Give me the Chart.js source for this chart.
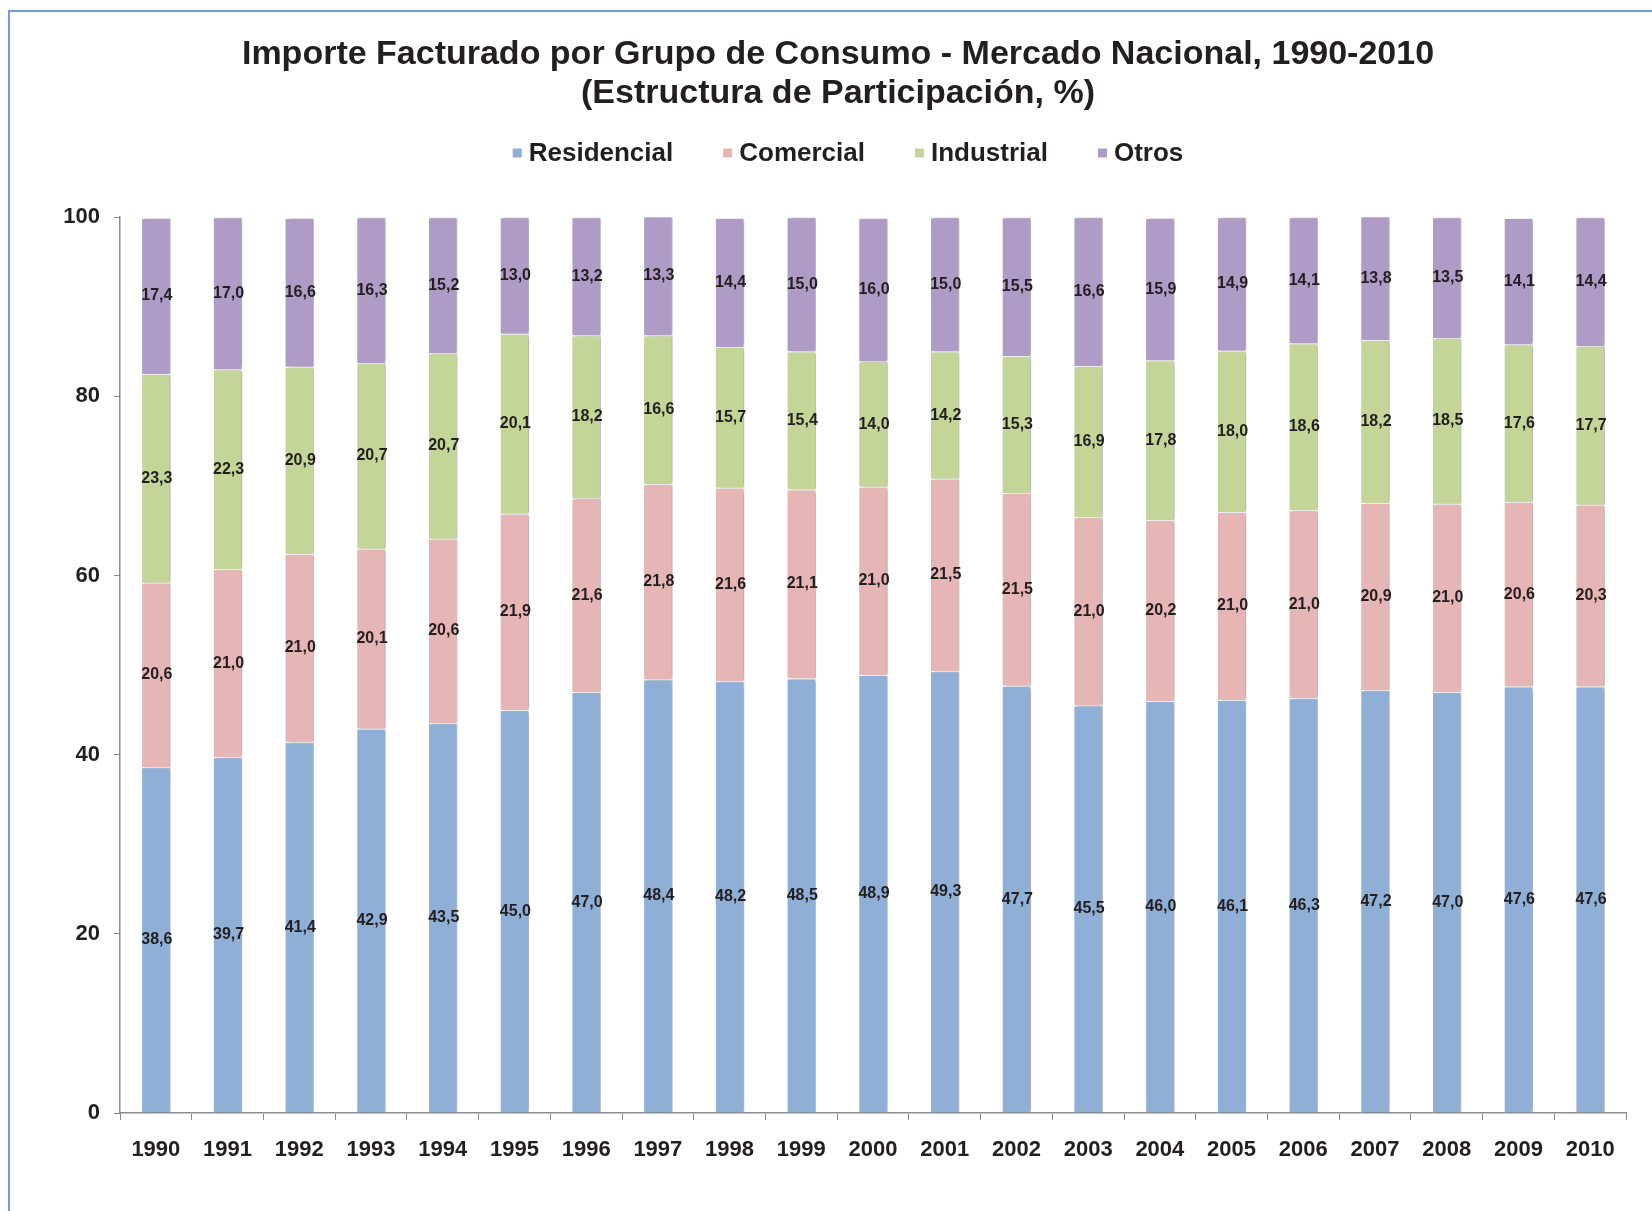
<!DOCTYPE html>
<html lang="es">
<head>
<meta charset="UTF-8">
<title>Importe Facturado por Grupo de Consumo</title>
<script src="https://cdn.jsdelivr.net/npm/chart.js"></script>
<style>
    html, body { margin: 0; padding: 0; background: #fff; overflow: hidden; }
    #wrap { position: relative; width: 1652px; height: 1211px; }
    #frame { position: absolute; left: 8px; top: 10px; width: 1700px; height: 1300px;
             border-top: 2px solid #6f9fd8; border-left: 2px solid #6f9fd8; }
    canvas { position: absolute; left: 0; top: 0; }
</style>
</head>
<body>
<div id="wrap">
    <div id="frame"></div>
    <canvas id="chart" width="1652" height="1211"></canvas>
</div>
<script>
    const years = ['1990', '1991', '1992', '1993', '1994', '1995', '1996', '1997', '1998', '1999', '2000',
                   '2001', '2002', '2003', '2004', '2005', '2006', '2007', '2008', '2009', '2010'];
    const residencial = [38.6, 39.7, 41.4, 42.9, 43.5, 45.0, 47.0, 48.4, 48.2, 48.5, 48.9,
                         49.3, 47.7, 45.5, 46.0, 46.1, 46.3, 47.2, 47.0, 47.6, 47.6];
    const comercial   = [20.6, 21.0, 21.0, 20.1, 20.6, 21.9, 21.6, 21.8, 21.6, 21.1, 21.0,
                         21.5, 21.5, 21.0, 20.2, 21.0, 21.0, 20.9, 21.0, 20.6, 20.3];
    const industrial  = [23.3, 22.3, 20.9, 20.7, 20.7, 20.1, 18.2, 16.6, 15.7, 15.4, 14.0,
                         14.2, 15.3, 16.9, 17.8, 18.0, 18.6, 18.2, 18.5, 17.6, 17.7];
    const otros       = [17.4, 17.0, 16.6, 16.3, 15.2, 13.0, 13.2, 13.3, 14.4, 15.0, 16.0,
                         15.0, 15.5, 16.6, 15.9, 14.9, 14.1, 13.8, 13.5, 14.1, 14.4];
    const yTicks = [0, 20, 40, 60, 80, 100];

    const FONT = '"Liberation Sans", Arial, sans-serif';
    const TEXT = '#231f20';

    // soft shadow on the right side of the bars
    const barShadow = {
        id: 'barShadow',
        beforeDatasetsDraw(chart) {
            const ctx = chart.ctx;
            ctx.save();
            ctx.shadowColor = 'rgba(0,0,0,0.3)';
            ctx.shadowBlur = 3;
            ctx.shadowOffsetX = 3;
        },
        afterDatasetsDraw(chart) {
            chart.ctx.restore();
        }
    };

    // value labels centred in every segment, comma decimals
    const segmentLabels = {
        id: 'segmentLabels',
        afterDatasetsDraw(chart) {
            const ctx = chart.ctx;
            ctx.save();
            ctx.font = 'bold 16px ' + FONT;
            ctx.fillStyle = TEXT;
            ctx.textAlign = 'center';
            ctx.textBaseline = 'middle';
            chart.data.datasets.forEach((ds, i) => {
                chart.getDatasetMeta(i).data.forEach((bar, j) => {
                    const y = (bar.y + bar.base) / 2;
                    ctx.fillText(ds.data[j].toFixed(1).replace('.', ','), bar.x + 1, y);
                });
            });
            ctx.restore();
        }
    };

    // legend row under the title
    const topLegend = {
        id: 'topLegend',
        afterDraw(chart) {
            const ctx = chart.ctx;
            ctx.save();
            ctx.font = 'bold 26px ' + FONT;
            ctx.textBaseline = 'middle';
            const box = 9, gapText = 7, gapItem = 50;
            const items = chart.data.datasets.map(ds => ({
                label: ds.label, color: ds.backgroundColor, w: ctx.measureText(ds.label).width
            }));
            const total = items.reduce((s, it) => s + box + gapText + it.w, 0) + gapItem * (items.length - 1);
            let x = chart.width / 2 + 22 - total / 2;
            const y = 154;
            items.forEach(it => {
                ctx.fillStyle = it.color;
                ctx.fillRect(x, y - box / 2 - 1, box, box);
                x += box + gapText;
                ctx.fillStyle = TEXT;
                ctx.fillText(it.label, x, y);
                x += it.w + gapItem;
            });
            ctx.restore();
        }
    };

    const ctx = document.getElementById('chart').getContext('2d');
    const chart = new Chart(ctx, {
        type: 'bar',
        data: {
            labels: years,
            datasets: [
                { label: 'Residencial', data: residencial, backgroundColor: '#8fafd7' },
                { label: 'Comercial', data: comercial, backgroundColor: '#e6b5b5' },
                { label: 'Industrial', data: industrial, backgroundColor: '#c3d597' },
                { label: 'Otros', data: otros, backgroundColor: '#ae9cc6' }
            ]
        },
        options: {
            responsive: false,
            animation: false,
            layout: { padding: { left: 50, right: 26, top: 10, bottom: 0 } },
            datasets: {
                bar: {
                    categoryPercentage: 1,
                    barPercentage: 0.41,
                    borderColor: '#ffffff',
                    borderWidth: 1
                }
            },
            plugins: {
                legend: { display: false },
                tooltip: { enabled: false },
                title: {
                    display: true,
                    text: ['Importe Facturado por Grupo de Consumo - Mercado Nacional, 1990-2010',
                           '(Estructura de Participación, %)'],
                    color: TEXT,
                    font: { family: FONT, size: 34, weight: 'bold', lineHeight: 1.15 },
                    padding: { top: 25, bottom: 104 }
                }
            },
            scales: {
                x: {
                    stacked: true,
                    afterFit: s => { s.height = 98; },
                    grid: { display: true, drawOnChartArea: false, drawTicks: true, tickLength: 7, color: '#8c8c8c' },
                    border: { color: '#8c8c8c', width: 1.5 },
                    ticks: { color: TEXT, font: { family: FONT, size: 22, weight: 'bold' }, padding: 17, maxRotation: 0 }
                },
                y: {
                    stacked: true,
                    min: 0,
                    max: 100,
                    afterFit: s => { s.width = 70; },
                    afterBuildTicks: s => { s.ticks = yTicks.map(v => ({ value: v })); },
                    grid: { display: true, drawOnChartArea: false, drawTicks: true, tickLength: 6, color: '#8c8c8c' },
                    border: { color: '#8c8c8c', width: 1.5 },
                    ticks: { color: TEXT, font: { family: FONT, size: 22, weight: 'bold' }, padding: 14 }
                }
            }
        },
        plugins: [barShadow, segmentLabels, topLegend]
    });
</script>
</body>
</html>
